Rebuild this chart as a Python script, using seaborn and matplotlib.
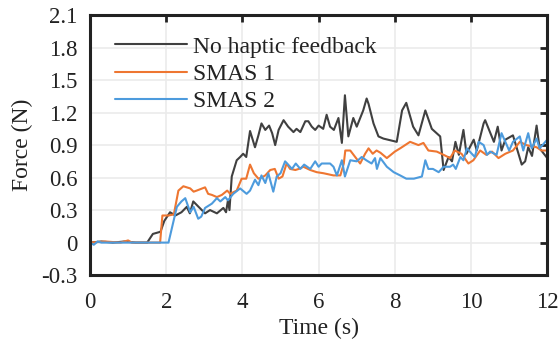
import numpy as np
import pandas as pd
import matplotlib
matplotlib.use("Agg")
import matplotlib.pyplot as plt
import seaborn as sns

series_names = ["No haptic feedback", "SMAS 1", "SMAS 2"]

t_none = [0, 0.3, 0.6, 0.9, 1.2, 1.5, 1.65, 1.75, 1.85, 1.95, 2.1, 2.24, 2.4, 2.54, 2.62, 2.71, 2.85,
          3.02, 3.15, 3.33, 3.5, 3.57, 3.62, 3.66, 3.72, 3.85, 3.94, 4.02, 4.1, 4.2, 4.33, 4.42, 4.5,
          4.6, 4.7, 4.78, 4.86, 4.95, 5.08, 5.2, 5.34, 5.42, 5.52, 5.65, 5.73, 5.82, 5.91, 6.0, 6.12,
          6.21, 6.3, 6.4, 6.52, 6.61, 6.69, 6.78, 6.91, 7.0, 7.17, 7.26, 7.31, 7.44, 7.57, 7.7, 8.05,
          8.19, 8.3, 8.48, 8.62, 8.8, 8.97, 9.19, 9.28, 9.41, 9.5, 9.59, 9.68, 9.8, 9.88, 10.07, 10.15,
          10.33, 10.37, 10.6, 10.7, 10.8, 10.9, 11.1, 11.33, 11.42, 11.5, 11.6, 11.72, 11.8, 12.0]
f_none = [0, 0.01, 0.0, 0.01, 0.0, 0.0, 0.08, 0.09, 0.1, 0.2, 0.28, 0.25, 0.28, 0.33, 0.27, 0.38, 0.33,
          0.27, 0.3, 0.27, 0.32, 0.28, 0.39, 0.3, 0.61, 0.76, 0.79, 0.82, 0.79, 1.03, 0.88, 0.99, 1.10,
          1.04, 1.08, 1.01, 0.9, 1.04, 1.13, 1.07, 1.02, 1.05, 1.02, 1.12, 1.12, 1.07, 1.04, 1.08, 1.05,
          1.18, 1.07, 1.04, 1.15, 0.92, 1.36, 0.98, 1.15, 1.07, 1.22, 1.33, 1.28, 1.10, 0.98, 0.96, 0.93,
          1.22, 1.29, 1.07, 0.99, 1.22, 1.05, 0.98, 0.67, 0.79, 0.75, 0.93, 0.81, 1.04, 0.82, 0.95, 0.85,
          1.10, 1.13, 0.93, 1.07, 0.85, 0.95, 0.99, 0.72, 0.75, 0.88, 0.80, 1.08, 0.87, 0.78]

t_smas1 = [0, 0.4, 0.8, 1.0, 1.1, 1.4, 1.84, 1.9, 2.06, 2.2, 2.32, 2.45, 2.63, 2.72, 2.8, 3.02, 3.1,
           3.2, 3.33, 3.46, 3.6, 3.68, 3.85, 3.98, 4.1, 4.2, 4.3, 4.42, 4.5, 4.6, 4.73, 4.85, 4.95,
           5.05, 5.16, 5.25, 5.39, 5.48, 5.6, 5.78, 5.95, 6.13, 6.39, 6.57, 6.66, 6.7, 6.83, 6.96,
           7.09, 7.22, 7.31, 7.42, 7.52, 7.62, 7.79, 8.0, 8.14, 8.4, 8.62, 8.75, 8.88, 9.1, 9.28,
           9.45, 9.57, 9.75, 9.93, 10.06, 10.24, 10.4, 10.55, 10.72, 10.9, 11.1, 11.28, 11.45, 11.72,
           11.85, 12.0]
f_smas1 = [0, 0.01, 0.0, 0.02, 0.0, 0.0, 0.0, 0.25, 0.25, 0.26, 0.48, 0.52, 0.5, 0.47, 0.48, 0.51, 0.45,
           0.44, 0.42, 0.44, 0.48, 0.45, 0.48, 0.59, 0.59, 0.72, 0.64, 0.59, 0.6, 0.62, 0.67, 0.68, 0.59,
           0.61, 0.73, 0.68, 0.67, 0.68, 0.70, 0.67, 0.65, 0.64, 0.62, 0.62, 0.73, 0.85, 0.85, 0.79,
           0.73, 0.82, 0.87, 0.82, 0.85, 0.83, 0.78, 0.84, 0.87, 0.93, 0.90, 0.92, 0.85, 0.84, 0.81,
           0.78, 0.85, 0.82, 0.73, 0.76, 0.85, 0.81, 0.84, 0.78, 0.82, 0.85, 0.93, 0.9, 0.88,
           0.85, 0.85]

t_smas2 = [0, 0.1, 0.2, 0.3, 0.6, 1.0, 1.5, 2.0, 2.06, 2.28, 2.4, 2.5, 2.63, 2.72, 2.84, 2.92, 3.02,
           3.2, 3.33, 3.42, 3.55, 3.62, 3.76, 3.94, 4.11, 4.2, 4.33, 4.42, 4.5, 4.6, 4.68, 4.81, 4.9,
           5.0, 5.12, 5.2, 5.3, 5.4, 5.52, 5.62, 5.78, 5.91, 6.0, 6.08, 6.3, 6.39, 6.48, 6.61, 6.69,
           6.83, 7.0, 7.13, 7.25, 7.39, 7.48, 7.53, 7.62, 7.79, 7.97, 8.14, 8.3, 8.5, 8.71, 8.8, 8.88,
           9.0, 9.15, 9.28, 9.45, 9.53, 9.6, 9.72, 9.8, 9.89, 10.02, 10.1, 10.2, 10.33, 10.42, 10.5,
           10.67, 10.8, 10.9, 11.0, 11.1, 11.28, 11.37, 11.5, 11.59, 11.72, 11.8, 12.0]
f_smas2 = [0, -0.02, 0.01, 0.0, 0.0, 0.0, 0.0, 0.0, 0.0, 0.33, 0.38, 0.41, 0.28, 0.33, 0.22, 0.24, 0.32,
           0.36, 0.41, 0.38, 0.42, 0.39, 0.45, 0.5, 0.45, 0.48, 0.58, 0.53, 0.62, 0.55, 0.64, 0.47, 0.61,
           0.64, 0.75, 0.72, 0.68, 0.73, 0.68, 0.72, 0.68, 0.75, 0.7, 0.73, 0.73, 0.7, 0.62, 0.76, 0.61,
           0.76, 0.75, 0.79, 0.76, 0.73, 0.78, 0.68, 0.78, 0.70, 0.65, 0.62, 0.59, 0.59, 0.61, 0.76, 0.68,
           0.68, 0.65, 0.70, 0.70, 0.72, 0.68, 0.79, 0.76, 0.87, 0.82, 0.79, 0.93, 0.9, 0.81, 0.84,
           0.81, 1.01, 0.93, 0.85, 0.93, 0.98, 0.85, 1.01, 0.87, 0.96, 0.87, 0.95]

x_ticks = [0, 2, 4, 6, 8, 10, 12]
y_ticks = [-0.3, 0, 0.3, 0.6, 0.9, 1.2, 1.5, 1.8, 2.1]
y_tick_labels = ["-0.3", "0", "0.3", "0.6", "0.9", "1.2", "1.5", "1.8", "2.1"]

frames = []
for name, t, f in zip(series_names, [t_none, t_smas1, t_smas2], [f_none, f_smas1, f_smas2]):
    frames.append(pd.DataFrame({"Time": t, "Force": f, "Condition": name}))
df = pd.concat(frames, ignore_index=True)

sns.set_theme(style="white")
plt.rcParams["font.family"] = ["Liberation Serif", "DejaVu Serif"]

fig = plt.figure(figsize=(5.59, 3.43), dpi=100)
ax = fig.add_axes([0.161, 0.198, 0.818, 0.758])

palette = {"No haptic feedback": "#404040", "SMAS 1": "#EE7631", "SMAS 2": "#4D9BDD"}
sns.lineplot(data=df, x="Time", y="Force", hue="Condition", hue_order=series_names,
             palette=palette, estimator=None, sort=False, linewidth=1.5, ax=ax)

ax.set_xlim(0, 12)
ax.set_ylim(-0.3, 2.1)
ax.set_xticks(x_ticks)
ax.set_xticklabels([str(v) for v in x_ticks])
ax.set_yticks(y_ticks)
ax.set_yticklabels(y_tick_labels)
ax.grid(True, color="#ebebeb", linewidth=1.2)
ax.set_axisbelow(True)
for s in ax.spines.values():
    s.set_visible(True)
    s.set_color("#222222")
    s.set_linewidth(2.2)
ax.tick_params(direction="in", length=5, width=2, color="#222222", labelsize=16.5,
               top=True, right=True, labelcolor="#222222")
ax.tick_params(axis="x", pad=12)
ax.tick_params(axis="y", pad=9)
ax.set_xlabel("Time (s)", fontsize=17, color="#222222", labelpad=4)
ax.set_ylabel("Force (N)", fontsize=17, color="#222222", labelpad=6)

leg = ax.legend(loc="upper left", frameon=False, fontsize=17, handlelength=3.05,
                handletextpad=0.25, labelspacing=0.24, borderaxespad=0.0, borderpad=0.0,
                bbox_to_anchor=(25 / 457, 1 - 21 / 260))
for line in leg.get_lines():
    line.set_linewidth(1.5)
for txt in leg.get_texts():
    txt.set_color("#222222")

fig.savefig("out.png", dpi=100)
